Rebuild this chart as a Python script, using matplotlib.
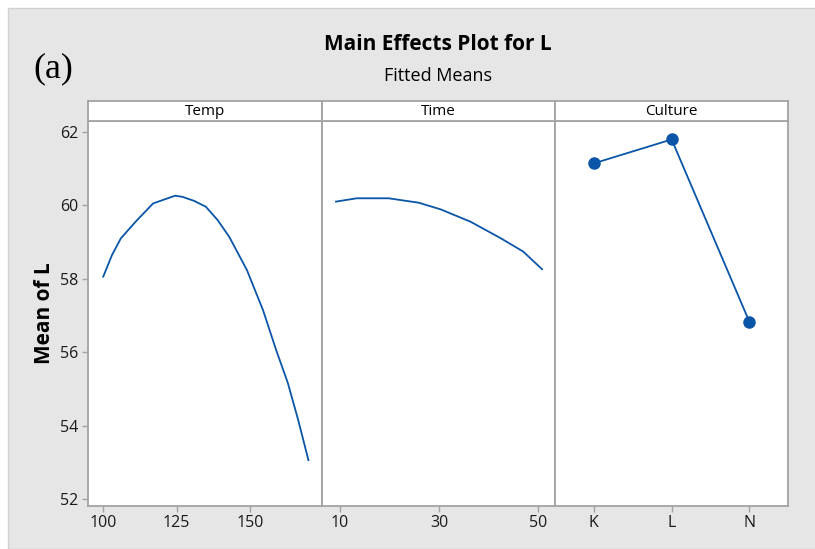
"""Main effects plot for L (fitted means), three factor panels."""

import matplotlib.pyplot as plt
import matplotlib.patches as mpatches

plt.rcParams["font.family"] = ["Open Sans", "DejaVu Sans"]

# Temp panel (fitted curve)
temp = [100, 103, 106, 111, 117, 124.5, 127, 131, 135, 139, 143, 149,
        154.5, 159, 163, 166.5, 170]
temp_mean = [58.06, 58.65, 59.10, 59.55, 60.05, 60.26, 60.23, 60.12, 59.96,
             59.60, 59.14, 58.24, 57.15, 56.06, 55.16, 54.16, 53.07]
temp_ticks = [100, 125, 150]

# Time panel (fitted curve)
time = [9.2, 13.4, 19.8, 25.9, 30.3, 36.4, 42.5, 47.0, 50.8]
time_mean = [60.10, 60.19, 60.19, 60.07, 59.89, 59.55, 59.10, 58.74, 58.26]
time_ticks = [10, 30, 50]

# Culture panel (categorical)
culture = ["K", "L", "N"]
culture_mean = [61.14, 61.79, 56.83]

y_ticks = [52, 54, 56, 58, 60, 62]

BLUE = "#0a55a8"
EDGE = "#a3a3a3"
BG = "#e6e6e6"

W, H = 815, 549
fig = plt.figure(figsize=(W / 100, H / 100), dpi=100, facecolor="white")
fig.patches.append(mpatches.Rectangle(
    (8 / W, 0), 1, 1 - 8 / H, transform=fig.transFigure,
    facecolor=BG, edgecolor="#d0d0d0", linewidth=1, zorder=-10))

left, right = 88.3, 788.3
top, bottom = 120.7, 505.7
strip_top = 100.7
pw = (right - left) / 3

panels = [
    ("Temp", temp, temp_mean, temp_ticks, (94.9, 174.5), False),
    ("Time", time, time_mean, time_ticks, (6.3, 53.4), False),
    ("Culture", list(range(len(culture))), culture_mean, None, (-0.5, 2.5), True),
]

for i, (name, xs, ys, ticks, xlim, markers) in enumerate(panels):
    x0 = (left + i * pw) / W
    ax = fig.add_axes([x0, 1 - bottom / H, pw / W, (bottom - top) / H])
    st = fig.add_axes([x0, 1 - top / H, pw / W, (top - strip_top) / H])

    if markers:
        ax.plot(xs, ys, color=BLUE, lw=1.3, marker="o", ms=8,
                mfc=BLUE, mec=BLUE)
        ax.set_xticks(xs, culture)
    else:
        ax.plot(xs, ys, color=BLUE, lw=1.3)
        ax.set_xticks(ticks)
    ax.set_xlim(*xlim)
    ax.set_ylim(51.83, 62.30)
    ax.set_yticks(y_ticks)
    ax.tick_params(colors=EDGE, labelcolor="#1a1a1a", labelsize=11.5,
                   length=4, width=1, pad=3)
    if i > 0:
        ax.tick_params(axis="y", left=False, labelleft=False)
    else:
        ax.set_ylabel("Mean of L", fontsize=15, fontweight="bold",
                      labelpad=4)
    for s in ax.spines.values():
        s.set_color(EDGE)
        s.set_linewidth(1.3)

    st.set_xticks([])
    st.set_yticks([])
    for s in st.spines.values():
        s.set_color(EDGE)
        s.set_linewidth(1.3)
    st.text(0.5, 0.45, name, ha="center", va="center", fontsize=11,
            transform=st.transAxes)

cx = (left + right) / 2 / W
fig.text(cx, 1 - 45 / H, "Main Effects Plot for L", ha="center",
         va="center", fontsize=15, fontweight="bold")
fig.text(cx, 1 - 76 / H, "Fitted Means", ha="center", va="center",
         fontsize=13)
fig.text(53 / W, 1 - 69 / H, "(a)", ha="center", va="center", fontsize=26,
         family="Liberation Serif")

fig.savefig("out.png", dpi=100, facecolor=fig.get_facecolor())
